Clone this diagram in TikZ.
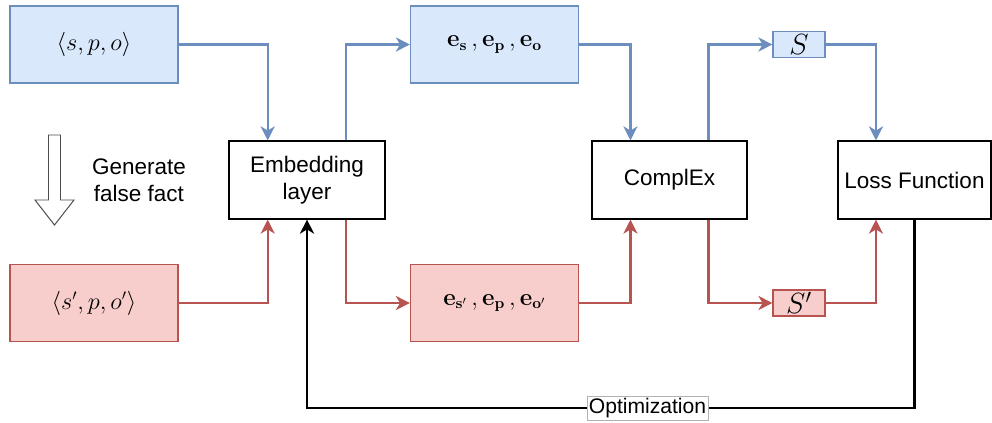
\documentclass[tikz,border=0pt]{standalone}
\usepackage[no-math]{fontspec}
\setmainfont{Liberation Sans}
\usetikzlibrary{arrows.meta,calc}
\definecolor{azulF}{HTML}{DAE8FC}
\definecolor{azulL}{HTML}{6C8EBF}
\definecolor{vermF}{HTML}{F8CECC}
\definecolor{vermL}{HTML}{B85450}

\begin{document}
\begin{tikzpicture}[x=0.025cm, y=-0.025cm,
    caixa/.style={draw, line width=0.8pt, inner sep=0pt, align=center,
        minimum height=1.95cm, font=\fontsize{16}{19}\selectfont},
    tripla/.style={caixa, minimum width=4.2cm, minimum height=1.925cm},
    azul/.style={fill=azulF, draw=azulL},
    verm/.style={fill=vermF, draw=vermL},
    escore/.style={caixa, minimum width=1.3cm, minimum height=0.65cm,
        font=\fontsize{20}{24}\selectfont},
    ponta/.style={-{Stealth[length=10pt,width=10pt,inset=3pt]}},
    setaA/.style={draw=azulL, line width=1.7pt, ponta},
    setaV/.style={draw=vermL, line width=1.7pt, ponta},
    fio/.style={draw=black, line width=1.8pt},
    rotulo/.style={draw=black!30, line width=0.4pt, fill=white, inner sep=1.5pt,
        font=\fontsize{15}{18}\selectfont}
]
    \useasboundingbox (0,0) rectangle (992,422);

    % Triplas de entrada
    \node[tripla, azul] (tl) at (94,44.5) {$\langle s,p,o\rangle$};
    \node[tripla, verm] (bl) at (94,303) {$\langle s',p,o'\rangle$};

    % Geração do fato falso
    \draw[draw=black!70, line width=0.7pt, fill=white]
        (48.5,135) -- (60.5,135) -- (60.5,200) -- (74,200) -- (54.5,225)
        -- (35,200) -- (48.5,200) -- cycle;
    \node[align=center, font=\fontsize{16}{19}\selectfont] (ger) at (139,180)
        {Generate\\false fact};

    % Blocos do modelo
    \node[caixa, minimum width=3.9cm] (emb) at (307,180) {Embedding\\layer};
    \node[caixa, minimum width=3.875cm] (cx) at (669.5,180) {ComplEx};
    \node[caixa, minimum width=3.825cm] (loss) at (914.5,180) {Loss Function};

    % Embeddings
    \node[tripla, azul] (te) at (494.5,44.5)
        {$\mathbf{e_s}\,,\mathbf{e_p}\,,\mathbf{e_o}$};
    \node[tripla, verm] (be) at (494.5,303)
        {$\mathbf{e_{s'}}\,,\mathbf{e_p}\,,\mathbf{e_{o'}}$};

    % Escores
    \node[escore, azul] (sc) at (799,44.5) {$S$};
    \node[escore, verm] (scp) at (799,303) {$S'$};

    % Fluxo positivo
    \draw[setaA] (tl.east) -| ($(emb.north west)!0.25!(emb.north east)$);
    \draw[setaA] ($(emb.north west)!0.75!(emb.north east)$) |- (te.west);
    \draw[setaA] (te.east) -| ($(cx.north west)!0.25!(cx.north east)$);
    \draw[setaA] ($(cx.north west)!0.75!(cx.north east)$) |- (sc.west);
    \draw[setaA] (sc.east) -| ($(loss.north west)!0.25!(loss.north east)$);

    % Fluxo negativo
    \draw[setaV] (bl.east) -| ($(emb.south west)!0.25!(emb.south east)$);
    \draw[setaV] ($(emb.south west)!0.75!(emb.south east)$) |- (be.west);
    \draw[setaV] (be.east) -| ($(cx.south west)!0.25!(cx.south east)$);
    \draw[setaV] ($(cx.south west)!0.75!(cx.south east)$) |- (scp.west);
    \draw[setaV] (scp.east) -| ($(loss.south west)!0.25!(loss.south east)$);

    % Otimização
    \node[rotulo] (opt) at (647.5,408) {Optimization};
    \draw[fio] (loss.south) |- (opt.east);
    \draw[fio, ponta] (opt.west) -| (emb.south);
\end{tikzpicture}
\end{document}
